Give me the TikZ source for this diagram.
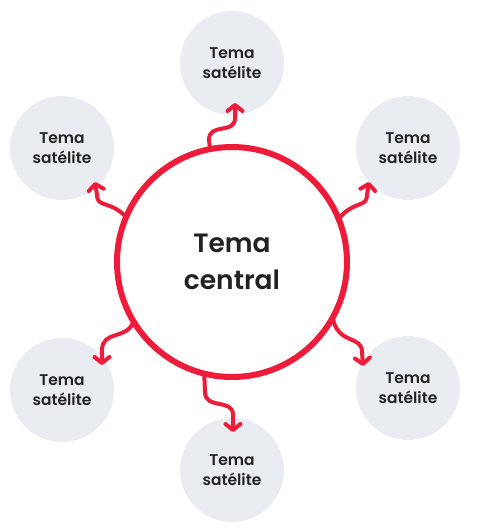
\documentclass[tikz,border=0pt]{standalone}
\usepackage{fontspec}
\newfontfamily\popsb{Poppins}[UprightFont=* SemiBold]
\usetikzlibrary{arrows.meta}
\definecolor{accent}{HTML}{EC1C3A}
\definecolor{satfill}{HTML}{E9EDF1}
\definecolor{txt}{HTML}{222222}
\tikzset{
  sat/.style={circle,fill=satfill,minimum size=104pt,inner sep=0pt,outer sep=0pt,
    align=center,text=txt,font=\popsb\fontsize{15.5}{19.5}\selectfont},
  central/.style={circle,draw=accent,line width=6pt,fill=white,minimum size=230pt,
    inner sep=0pt,outer sep=0pt,align=center,text=txt,font=\popsb\fontsize{26.5}{37}\selectfont},
  link/.style={draw=accent,line width=4pt,line cap=round,line join=round,
    -{Straight Barb[length=6pt,width=15pt,round]}}
}
\begin{document}
\begin{tikzpicture}[x=1pt,y=-1pt]
\useasboundingbox (0,0) rectangle (477,532);
% satellites
\node[sat] (s1) at (232,63) {Tema\\satélite};
\node[sat] (s2) at (62,148) {Tema\\satélite};
\node[sat] (s3) at (408,148) {Tema\\satélite};
\node[sat] (s4) at (62,390) {Tema\\satélite};
\node[sat] (s5) at (408,388) {Tema\\satélite};
\node[sat] (s6) at (232,470) {Tema\\satélite};
% central placeholder for anchors
\coordinate (cc) at (232,262);
\node[circle,minimum size=230pt,inner sep=0pt,outer sep=0pt] (c) at (cc) {};
% arrow tips
\coordinate (t1) at (235,103);
\coordinate (t2) at (95,182);
\coordinate (t3) at (369,182);
\coordinate (t4) at (102,365);
\coordinate (t5) at (363,366);
\coordinate (t6) at (233,432);
% connectors
\draw[link] (c.101.5) -- (209,140) .. controls (209,122) and (235,135) .. (235,118) -- (t1);
\draw[link] (c.157.6) .. controls (110,200) and (97,208) .. (97,195) -- (t2);
\draw[link] (c.22.4) .. controls (354,200) and (367,208) .. (367,195) -- (t3);
\draw[link] (c.211.2) .. controls (128,340) and (102,330) .. (102,350) -- (t4);
\draw[link] (c.331) .. controls (338,345) and (362,335) .. (362,352) -- (t5);
\draw[link] (c.256.5) -- (205,392) .. controls (205,410) and (233,398) .. (233,415) -- (t6);
% central
\node[central] (main) at (cc) {Tema\\central};
\end{tikzpicture}
\end{document}
